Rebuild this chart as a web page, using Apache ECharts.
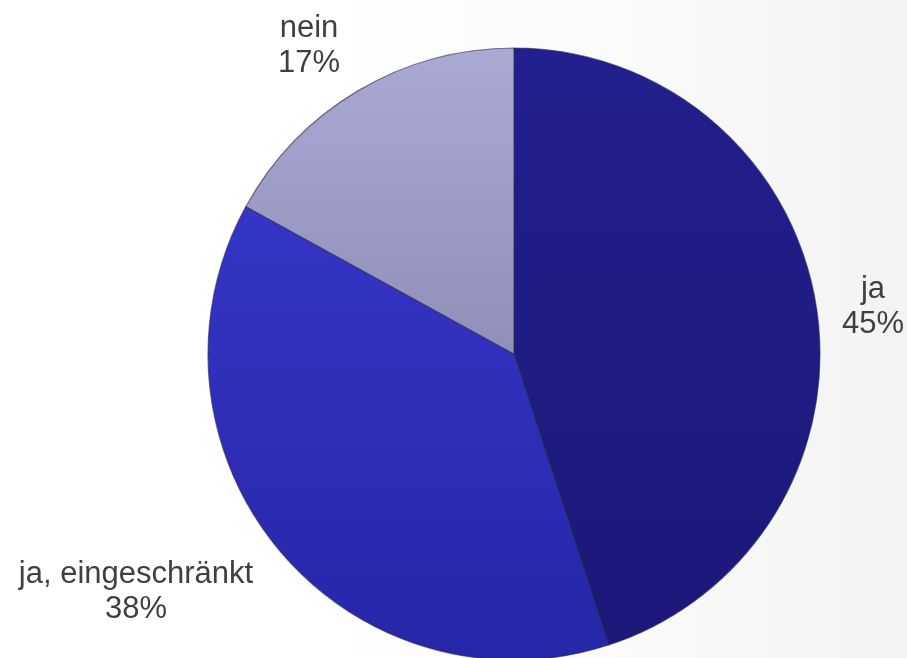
<!DOCTYPE html>
<html><head><meta charset="utf-8">
<script src="https://cdn.jsdelivr.net/npm/echarts@6/dist/echarts.min.js"></script>
<style>html,body{margin:0;padding:0;background:#fff}
#c{width:907px;height:658px;background:linear-gradient(to right,#ffffff 0%,#ffffff 35%,#fafafa 70%,#f3f3f3 100%)}</style>
</head><body><div id="c"></div>
<script>
const categories = ['ja', 'ja, eingeschränkt', 'nein'];
const values = [45, 38, 17];
const labelTexts = ['ja\n45%', 'ja, eingeschränkt\n38%', 'nein\n17%'];
const labelPos = [[873, 307], [136, 592], [309, 46]];
const colorsTop = ['#221f8f', '#3535c6', '#a9a9d3'];
const colorsBottom = ['#1b1878', '#2626a8', '#8f8fb9'];

const chart = echarts.init(document.getElementById('c'));
chart.setOption({
  backgroundColor: 'transparent',
  animation: false,
  series: [{
    type: 'pie',
    center: [514, 354],
    radius: [0, 306],
    startAngle: 90,
    clockwise: true,
    data: categories.map((c, i) => ({
      name: c,
      value: values[i],
      itemStyle: {
        color: new echarts.graphic.LinearGradient(0, 0, 0, 1, [
          {offset: 0, color: colorsTop[i]}, {offset: 1, color: colorsBottom[i]}
        ]),
        borderColor: 'rgba(40,40,80,0.6)',
        borderWidth: 1.2
      },
      label: {formatter: labelTexts[i]}
    })),
    label: {
      show: true,
      position: 'outside',
      fontFamily: 'Liberation Sans, Arial, sans-serif',
      fontSize: 31,
      lineHeight: 35,
      color: '#404040',
      align: 'center',
      overflow: 'none'
    },
    labelLine: {show: false},
    labelLayout: function (p) {
      return {x: labelPos[p.dataIndex][0], y: labelPos[p.dataIndex][1], align: 'center', verticalAlign: 'middle'};
    },
    emphasis: {disabled: true}
  }]
});
</script></body></html>
